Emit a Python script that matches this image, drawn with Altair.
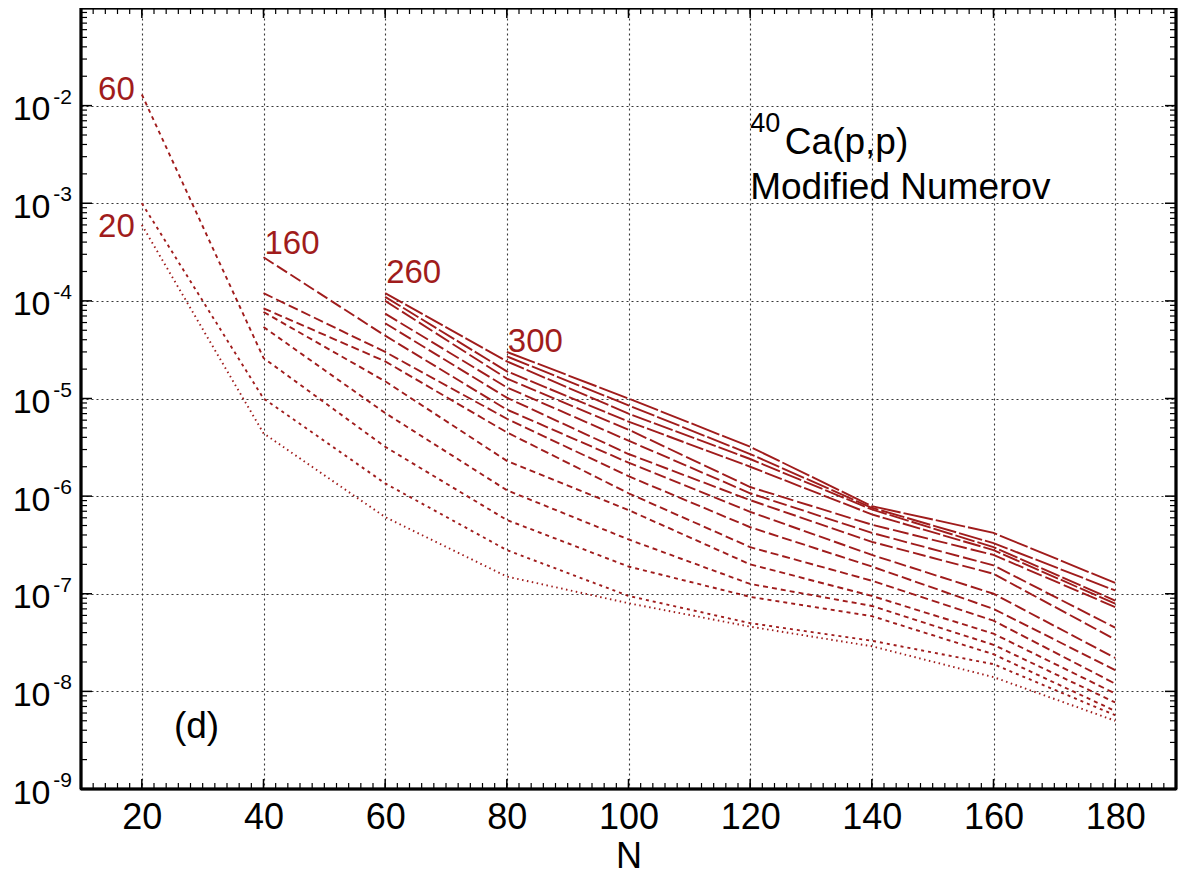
import altair as alt
import pandas as pd

FONT = "Liberation Sans"
RED = "#a01c1c"

N_GRID = [20, 40, 60, 80, 100, 120, 140, 160, 180]
ENERGIES = [20, 40, 60, 80, 100, 120, 140, 160, 180, 200, 220, 240, 260, 280, 300]

E20 = [6.0e-4, 4.4e-6, 6.1e-7, 1.5e-7, 8.0e-8, 4.6e-8, 2.9e-8, 1.4e-8, 5.0e-9]
E40 = [1.0e-3, 1.0e-5, 1.35e-6, 2.8e-7, 9.5e-8, 5.0e-8, 3.3e-8, 1.9e-8, 5.7e-9]
E60 = [1.3e-2, 2.6e-5, 3.2e-6, 5.7e-7, 1.9e-7, 9.3e-8, 5.9e-8, 2.4e-8, 6.3e-9]
E80 = [None, 5.4e-5, 7.1e-6, 1.15e-6, 3.6e-7, 1.26e-7, 7.5e-8, 3.0e-8, 7.7e-9]
E100 = [None, 7.7e-5, 1.5e-5, 2.3e-6, 7.2e-7, 2.0e-7, 9.5e-8, 3.9e-8, 9.5e-9]
E120 = [None, 8.4e-5, 2.4e-5, 4.5e-6, 1.07e-6, 3.0e-7, 1.36e-7, 5.3e-8, 1.2e-8]
E140 = [None, 1.2e-4, 3.0e-5, 6.2e-6, 1.6e-6, 4.8e-7, 1.9e-7, 7.0e-8, 1.65e-8]
E160 = [None, 2.8e-4, 4.4e-5, 7.7e-6, 2.2e-6, 6.9e-7, 2.5e-7, 1.0e-7, 2.2e-8]
E180 = [None, None, 5.9e-5, 1.02e-5, 2.7e-6, 9.1e-7, 3.4e-7, 1.6e-7, 3.4e-8]
E200 = [None, None, 7.4e-5, 1.3e-5, 3.7e-6, 1.07e-6, 4.2e-7, 1.95e-7, 4.5e-8]
E220 = [None, None, 1.0e-4, 1.6e-5, 4.8e-6, 1.24e-6, 5.1e-7, 2.5e-7, 7.3e-8]
E240 = [None, None, 1.1e-4, 1.9e-5, 5.8e-6, 2.0e-6, 6.5e-7, 2.8e-7, 7.9e-8]
E260 = [None, None, 1.2e-4, 2.4e-5, 7.0e-6, 2.4e-6, 7.3e-7, 3.0e-7, 8.5e-8]
E280 = [None, None, None, 2.7e-5, 8.5e-6, 2.7e-6, 7.6e-7, 3.3e-7, 1.08e-7]
E300 = [None, None, None, 3.0e-5, 1.0e-5, 3.2e-6, 7.9e-7, 4.2e-7, 1.29e-7]

SERIES = [E20, E40, E60, E80, E100, E120, E140, E160, E180,
          E200, E220, E240, E260, E280, E300]

DASHES = [[1.5, 3.5], [3, 4], [4, 4], [5, 4], [6, 4], [8, 4], [10, 4], [12, 4],
          [13, 4], [14, 4], [16, 4], [18, 3], [20, 3], [24, 3], [30, 3]]

X_TICKS = [20, 40, 60, 80, 100, 120, 140, 160, 180]
X_MINOR = list(range(12, 190, 2))
X_EDGES = [10, 190]
Y_DECADES = [1e-2, 1e-3, 1e-4, 1e-5, 1e-6, 1e-7, 1e-8, 1e-9]
Y_EXPONENTS = ["-2", "-3", "-4", "-5", "-6", "-7", "-8", "-9"]
Y_MINOR = [k * 10.0 ** e for e in range(-9, -1) for k in range(2, 10)]
Y_EDGES = [1e-9, 1e-1]

LBL_R_TEXT = ["60", "20"]
LBL_R_N = [20, 20]
LBL_R_V = [1.46e-2, 5.75e-4]
LBL_L_TEXT = ["160", "260", "300"]
LBL_L_N = [40, 60, 80]
LBL_L_V = [3.81e-4, 1.92e-4, 3.82e-5]

ANN_TEXT = ["Ca(p,p)", "Modified Numerov"]
ANN_N = [125.7, 120]
ANN_V = [3.2e-3, 1.11e-3]
SUP_TEXT = ["40"]
SUP_N = [120]
SUP_V = [5.4e-3]
PANEL_TEXT = ["(d)"]
PANEL_N = [29.0]
PANEL_V = [4.3e-9]

W, H = 1095, 781

rows = []
for e, vals in zip(ENERGIES, SERIES):
    for n, v in zip(N_GRID, vals):
        if v is not None:
            rows.append({"E": e, "N": n, "v": v})
lines_df = pd.DataFrame(rows)

xs = alt.Scale(domain=[10, 190], nice=False, zero=False)
ys = alt.Scale(type="log", domain=[1e-9, 1e-1], nice=False)

X_AXIS = alt.Axis(
    values=X_TICKS, grid=True, domain=False, ticks=False, tickSize=0,
    labelFontSize=36, labelPadding=11, labelFlush=False, labelOverlap=False,
    title="N", titleFontSize=36, titleFontWeight="normal", titlePadding=4)
Y_AXIS = alt.Axis(
    values=Y_DECADES, grid=True, domain=False, ticks=False, tickSize=0,
    labelExpr="'10'", labelFontSize=34, labelPadding=31, labelOffset=4,
    labelFlush=False, labelOverlap=False, title="")

xenc = alt.X("N:Q", scale=xs, axis=X_AXIS)
yenc = alt.Y("v:Q", scale=ys, axis=Y_AXIS)

lines = alt.Chart(lines_df).mark_line(strokeWidth=1.9, color=RED).encode(
    x=xenc,
    y=yenc,
    strokeDash=alt.StrokeDash("E:O", scale=alt.Scale(domain=ENERGIES, range=DASHES), legend=None),
    detail="E:O",
)

ymaj = pd.DataFrame({"v": Y_DECADES[:-1]})
ymin = pd.DataFrame({"v": Y_MINOR})
xmaj = pd.DataFrame({"N": X_TICKS})
xmin = pd.DataFrame({"N": X_MINOR})
xedge = pd.DataFrame({"N": X_EDGES})
yedge = pd.DataFrame({"v": Y_EDGES})

tick_layers = [
    alt.Chart(ymaj).mark_rule(color="black", strokeWidth=1.5).encode(y=yenc, x=alt.value(0), x2=alt.value(11)),
    alt.Chart(ymaj).mark_rule(color="black", strokeWidth=1.5).encode(y=yenc, x=alt.value(W), x2=alt.value(W - 11)),
    alt.Chart(ymin).mark_rule(color="black", strokeWidth=1.2).encode(y=yenc, x=alt.value(0), x2=alt.value(6)),
    alt.Chart(ymin).mark_rule(color="black", strokeWidth=1.2).encode(y=yenc, x=alt.value(W), x2=alt.value(W - 6)),
    alt.Chart(xmaj).mark_rule(color="black", strokeWidth=1.5).encode(x=xenc, y=alt.value(H), y2=alt.value(H - 10)),
    alt.Chart(xmaj).mark_rule(color="black", strokeWidth=1.5).encode(x=xenc, y=alt.value(0), y2=alt.value(10)),
    alt.Chart(xmin).mark_rule(color="black", strokeWidth=1.2).encode(x=xenc, y=alt.value(H), y2=alt.value(H - 6)),
    alt.Chart(xmin).mark_rule(color="black", strokeWidth=1.2).encode(x=xenc, y=alt.value(0), y2=alt.value(6)),
    # frame: vertical edges at the x-domain ends, horizontal edges at the y-domain ends
    alt.Chart(xedge).mark_rule(color="black", strokeWidth=3).encode(x=xenc, y=alt.value(0), y2=alt.value(H)),
    alt.Chart(yedge).mark_rule(color="black", strokeWidth=3).encode(y=yenc, x=alt.value(0), x2=alt.value(W)),
]

exp_df = pd.DataFrame({"v": Y_DECADES, "t": Y_EXPONENTS})
exponents = alt.Chart(exp_df).mark_text(
    align="right", baseline="alphabetic", font=FONT, fontSize=21, color="black", dy=-2
).encode(y=yenc, x=alt.value(-9), text="t:N")

lab_r = alt.Chart(pd.DataFrame({"N": LBL_R_N, "v": LBL_R_V, "t": LBL_R_TEXT})).mark_text(
    align="right", baseline="middle", font=FONT, fontSize=33, color=RED, dx=-7
).encode(x=xenc, y=yenc, text="t:N")
lab_l = alt.Chart(pd.DataFrame({"N": LBL_L_N, "v": LBL_L_V, "t": LBL_L_TEXT})).mark_text(
    align="left", baseline="middle", font=FONT, fontSize=33, color=RED, dx=1
).encode(x=xenc, y=yenc, text="t:N")

ann = alt.Chart(pd.DataFrame({"N": ANN_N, "v": ANN_V, "t": ANN_TEXT})).mark_text(
    align="left", baseline="alphabetic", font=FONT, fontSize=37, color="black"
).encode(x=xenc, y=yenc, text="t:N")
sup = alt.Chart(pd.DataFrame({"N": SUP_N, "v": SUP_V, "t": SUP_TEXT})).mark_text(
    align="left", baseline="alphabetic", font=FONT, fontSize=27, color="black"
).encode(x=xenc, y=yenc, text="t:N")
panel = alt.Chart(pd.DataFrame({"N": PANEL_N, "v": PANEL_V, "t": PANEL_TEXT})).mark_text(
    align="center", baseline="middle", font=FONT, fontSize=37, color="black"
).encode(x=xenc, y=yenc, text="t:N")

chart = alt.layer(lines, *tick_layers, exponents, lab_r, lab_l, ann, sup, panel).properties(
    width=W, height=H,
    background="white",
    autosize=alt.AutoSizeParams(type="none"),
    padding={"left": 73, "top": 0, "right": 16, "bottom": 96},
).configure_view(
    stroke="black", strokeWidth=2.5
).configure_axis(
    labelFont=FONT, titleFont=FONT, labelColor="black", titleColor="black",
    gridColor="#222222", gridDash=[2, 3], gridWidth=1.1, gridOpacity=0.9,
)

chart.save("out.html", embed_options={"renderer": "svg", "actions": False})
